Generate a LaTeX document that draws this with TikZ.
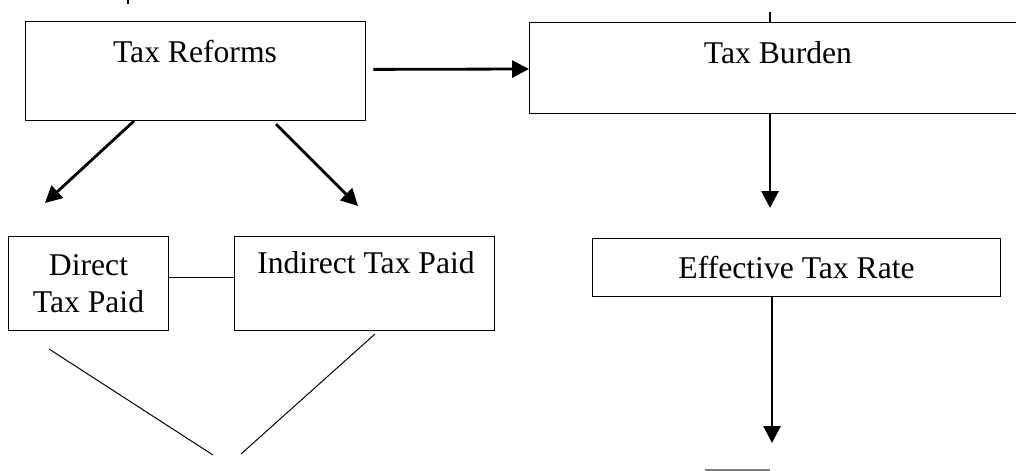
\documentclass[tikz,border=0pt]{standalone}
\usepackage{fontspec}
\setmainfont{Liberation Serif}
\usetikzlibrary{arrows.meta}

\begin{document}
\begin{tikzpicture}[x=0.025cm, y=-0.025cm,
        box/.style={draw, line width=0.7pt, anchor=north west, inner sep=0pt, align=center,
                    font=\fontsize{22.5}{26.5}\selectfont},
        lbl/.style={inner sep=0pt, font=\fontsize{22.5}{26.5}\selectfont},
        arr/.style={line width=2pt, -{Triangle[length=0.42cm, width=0.42cm]}},
        thin/.style={line width=0.7pt}]
        \useasboundingbox (0,0) rectangle (1016,471);
        \clip (0,0) rectangle (1016,471);

        % boxes
        \node[box, minimum width=8.5cm, minimum height=2.475cm] (reforms) at (25,21) {};
        \node[lbl] (reformsT) at (195,52) {Tax Reforms};
        \node[box, minimum width=12.5cm, minimum height=2.275cm] (burden) at (529,22) {};
        \node[lbl] (burdenT) at (778,53) {Tax Burden};
        \node[box, minimum width=4cm, minimum height=2.35cm] (direct) at (8,236) {Direct\\Tax Paid};
        \node[box, minimum width=6.5cm, minimum height=2.35cm] (indirect) at (234,236) {};
        \node[lbl] (indirectT) at (366,263) {Indirect Tax Paid};
        \node[box, minimum width=10.2cm, minimum height=1.45cm] (effective) at (592,238) {Effective Tax Rate};

        % free ends
        \coordinate (tipL) at (45,203);
        \coordinate (tipR) at (358,206);
        \coordinate (tipA) at (770,208);
        \coordinate (tipB) at (772,443);
        \coordinate (stubT) at (770,12);
        \coordinate (markT) at (128,0);
        \coordinate (markB) at (128,4);
        \coordinate (vL1) at (49,349);
        \coordinate (vL2) at (213,455);
        \coordinate (vR1) at (375,334);
        \coordinate (vR2) at (241,454);
        \coordinate (greyL) at (705,470);
        \coordinate (greyR) at (770,470);

        % connectors
        \draw[arr] ([xshift=0.18cm, yshift=0.04cm]reforms.east) -- (burden.west |- 0,69);
        \draw[arr] (reforms.south -| 134,0) -- (tipL);
        \draw[arr] ([yshift=-0.08cm]reforms.south -| 276,0) -- (tipR);
        \draw[arr] (burden.south -| tipA) -- (tipA);
        \draw[arr] (effective.south -| tipB) -- (tipB);
        \draw[line width=2pt] (stubT) -- (burden.north -| stubT);
        \draw[line width=2pt] (markT) -- (markB);
        \draw[thin] ([yshift=0.15cm]direct.east) -- ([yshift=0.15cm]indirect.west);
        \draw[thin] (vL1) -- (vL2);
        \draw[thin] (vR1) -- (vR2);
        \draw[line width=1.5pt, gray] (greyL) -- (greyR);
    \end{tikzpicture}
\end{document}
